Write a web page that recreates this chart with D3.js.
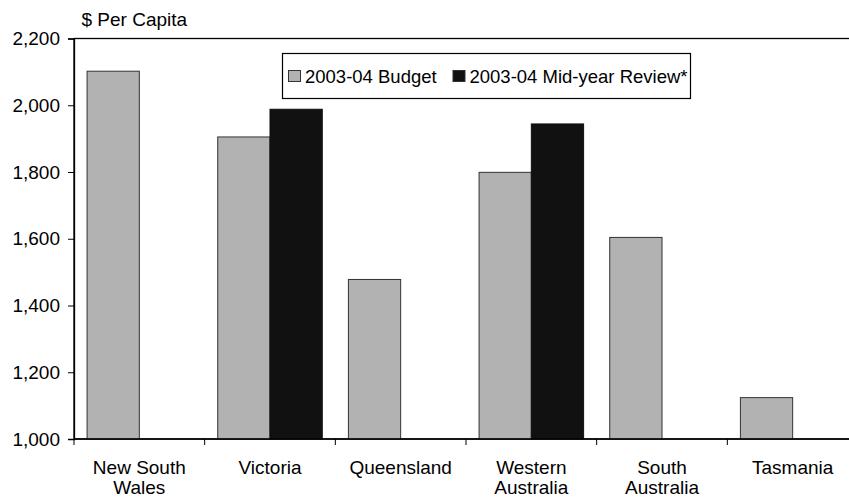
<!DOCTYPE html>
<html>
<head>
<meta charset="utf-8">
<script src="https://cdn.jsdelivr.net/npm/d3@7"></script>
<style>
  html, body { margin: 0; padding: 0; background: #fff; }
  svg { display: block; font-family: Arial, "Liberation Sans", sans-serif; }
</style>
</head>
<body>
<svg id="chart" width="849" height="500"></svg>
<script>
// Per-capita figures by state
const states = [["New South", "Wales"], ["Victoria"], ["Queensland"], ["Western", "Australia"], ["South", "Australia"], ["Tasmania"]];
const budget = [2102, 1905, 1478, 1799, 1604, 1124];
const midYear = [null, 1988, null, 1944, null, null];
const seriesNames = ["2003-04 Budget", "2003-04 Mid-year Review*"];
const seriesColors = ["#b2b2b2", "#111111"];
const yTicks = [1000, 1200, 1400, 1600, 1800, 2000, 2200];

const svg = d3.select("#chart");
const plotLeft = 74, plotRight = 858, plotTop = 38.5, plotBottom = 439;

const x = d3.scaleBand().domain(d3.range(states.length)).range([plotLeft, plotRight]).paddingInner(0).paddingOuter(0);
const inner = d3.scaleBand().domain([0, 1]).range([0, x.bandwidth()]).paddingOuter(0.25).paddingInner(0);
const y = d3.scaleLinear().domain([1000, 2200]).range([plotBottom, plotTop]);

// plot frame
svg.append("rect")
  .attr("x", plotLeft).attr("y", plotTop)
  .attr("width", plotRight - plotLeft).attr("height", plotBottom - plotTop)
  .attr("fill", "none").attr("stroke", "#000").attr("stroke-width", 1.3);

// bars
const rows = states.map((s, i) => [budget[i], midYear[i]]);
rows.forEach((vals, i) => {
  vals.forEach((v, j) => {
    if (v == null) return;
    svg.append("rect")
      .attr("x", x(i) + inner(j))
      .attr("y", y(v))
      .attr("width", inner.bandwidth())
      .attr("height", y(1000) - y(v))
      .attr("fill", seriesColors[j])
      .attr("stroke", j === 0 ? "#333" : "#111")
      .attr("stroke-width", 1);
  });
});

// y axis
const yAxis = svg.append("g")
  .attr("transform", `translate(${plotLeft},0)`)
  .call(d3.axisLeft(y).tickValues(yTicks).tickSize(6).tickPadding(8).tickFormat(d3.format(",")));
yAxis.select(".domain").attr("stroke", "#000").attr("stroke-width", 1.3);
yAxis.selectAll(".tick line").attr("stroke", "#000");
yAxis.selectAll(".tick text").attr("font-size", 19).attr("fill", "#000")
  .attr("font-family", "Arial, 'Liberation Sans', sans-serif");

// x axis with ticks at category boundaries
const xg = svg.append("g").attr("transform", `translate(0,${plotBottom})`);
xg.append("line").attr("x1", plotLeft).attr("x2", plotRight).attr("stroke", "#000").attr("stroke-width", 1.3);
d3.range(states.length + 1).forEach(i => {
  const bx = i < states.length ? x(i) : plotRight;
  xg.append("line").attr("x1", bx).attr("x2", bx).attr("y1", 0).attr("y2", 6).attr("stroke", "#000");
});
states.forEach((lines, i) => {
  const t = xg.append("text")
    .attr("x", x(i) + x.bandwidth() / 2)
    .attr("y", 34.5)
    .attr("text-anchor", "middle")
    .attr("font-size", 19)
    .attr("fill", "#000");
  lines.forEach((ln, k) => {
    t.append("tspan").attr("x", x(i) + x.bandwidth() / 2).attr("dy", k === 0 ? 0 : 20).text(ln);
  });
});

// axis title
svg.append("text").attr("x", 81.5).attr("y", 26).attr("font-size", 19).attr("fill", "#000").text("$ Per Capita");

// legend
const lg = svg.append("g");
lg.append("rect").attr("x", 282.5).attr("y", 53.5).attr("width", 408).attr("height", 45)
  .attr("fill", "#fff").attr("stroke", "#000").attr("stroke-width", 1.2);
const legendX = [288.5, 453];
seriesNames.forEach((name, j) => {
  lg.append("rect").attr("x", legendX[j]).attr("y", 70.5).attr("width", 12).attr("height", 11)
    .attr("fill", seriesColors[j]).attr("stroke", "#333").attr("stroke-width", 1);
  lg.append("text").attr("x", legendX[j] + 16.5).attr("y", 82.5).attr("font-size", 18.5).attr("fill", "#000").text(name);
});
</script>
</body>
</html>
